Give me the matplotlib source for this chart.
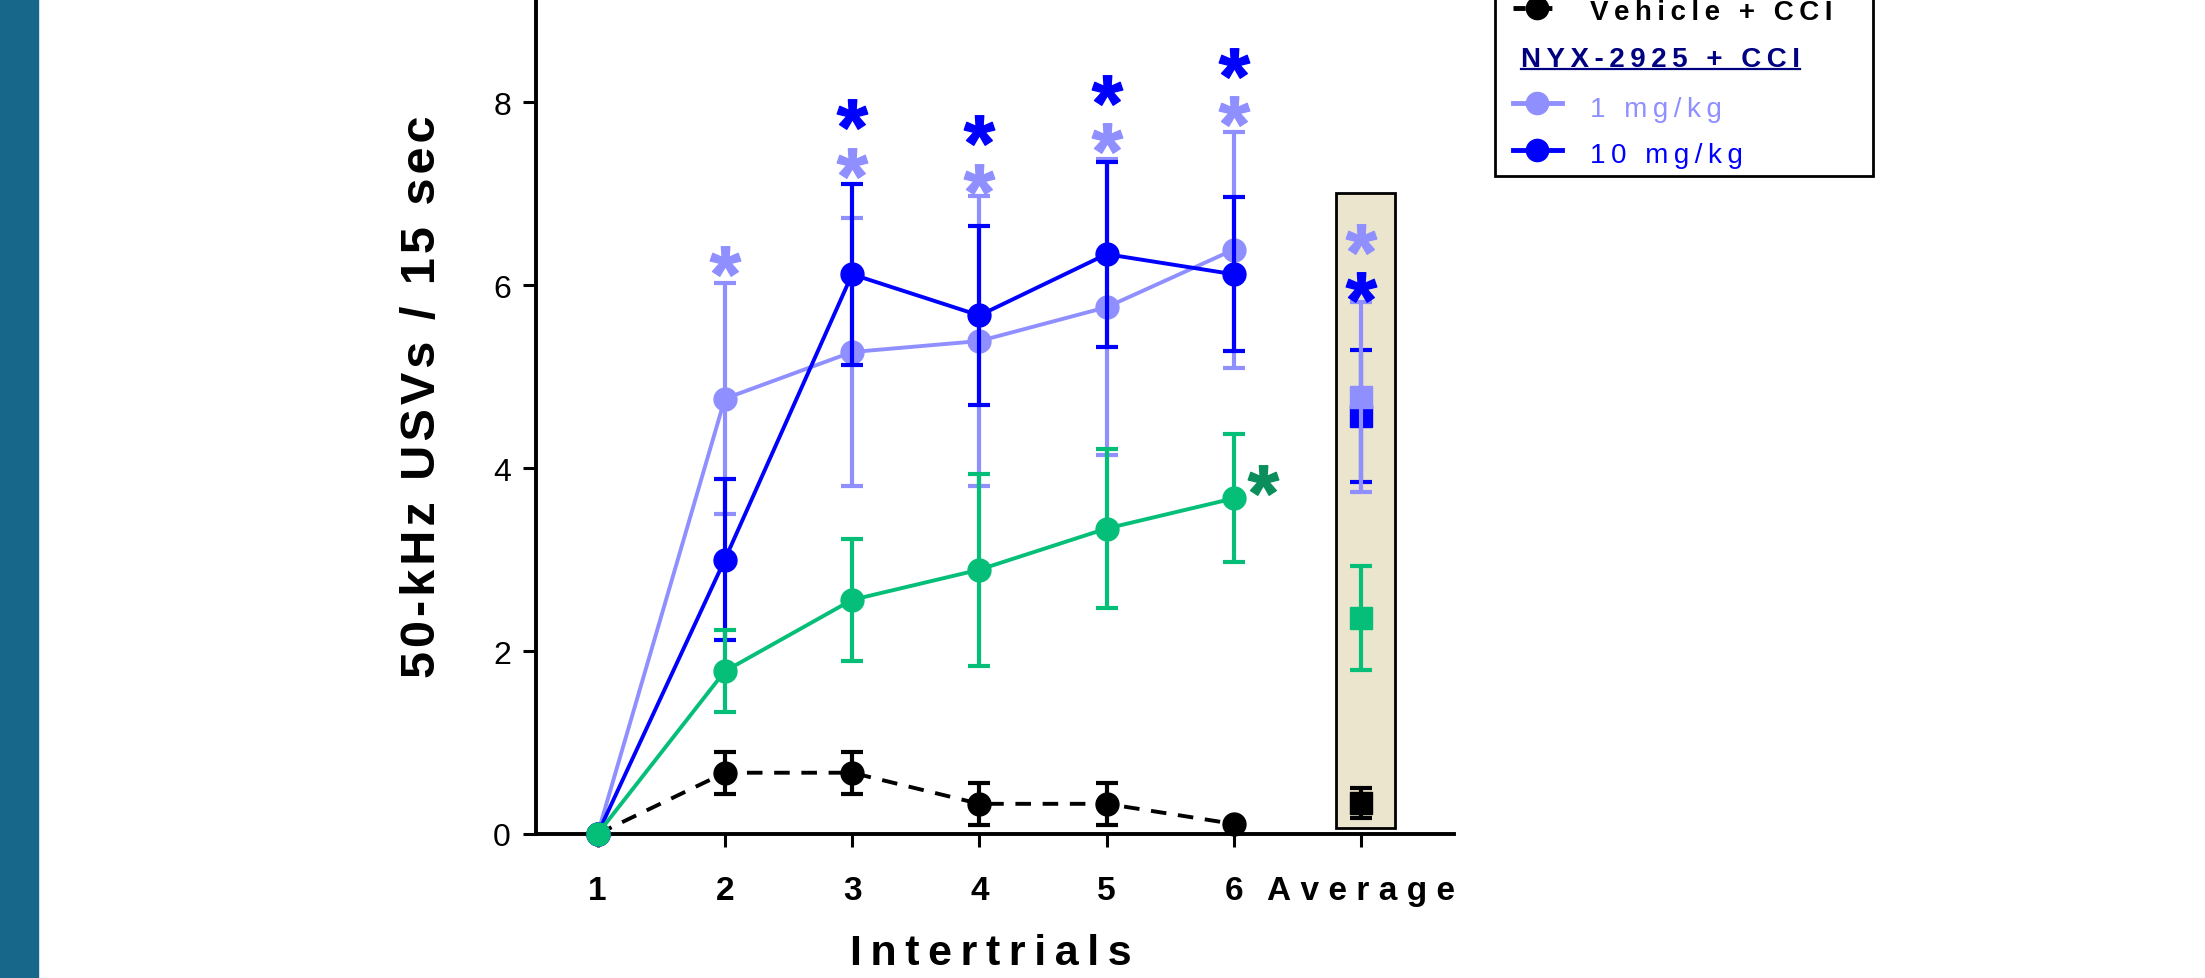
import matplotlib
matplotlib.use("Agg")
import matplotlib.pyplot as plt
import numpy as np
from matplotlib.patches import Rectangle
from matplotlib.lines import Line2D
from matplotlib.textpath import TextPath
from matplotlib.font_manager import FontProperties
from matplotlib.path import Path

plt.rcParams['font.family'] = ['Liberation Sans', 'DejaVu Sans']

# ---- data ----
trials = [1, 2, 3, 4, 5, 6]
xtick_labels = ['1', '2', '3', '4', '5', '6', 'Average']
yticks = [0, 2, 4, 6, 8]

vehicle = [0, 0.67, 0.67, 0.33, 0.33, 0.11]
vehicle_err = [0, 0.23, 0.23, 0.23, 0.23, 0]
green = [0, 1.78, 2.56, 2.89, 3.34, 3.67]
green_err = [0, 0.45, 0.67, 1.05, 0.87, 0.70]
low = [0, 4.76, 5.27, 5.39, 5.76, 6.39]
low_err = [0, 1.26, 1.46, 1.59, 1.62, 1.29]
high = [0, 3.0, 6.12, 5.67, 6.34, 6.12]
high_err = [0, 0.88, 0.99, 0.98, 1.01, 0.84]

avg_x = 7
vehicle_avg, vehicle_avg_err = 0.34, 0.16
green_avg, green_avg_err = 2.36, 0.57
low_avg, low_avg_err = 4.78, 1.04
high_avg, high_avg_err = 4.57, 0.72

# significance stars
low_star_x = [2, 3, 4, 5, 6, 7]
low_star_y = [6.27, 7.34, 7.16, 7.61, 7.90, 6.51]
high_star_x = [3, 4, 5, 6, 7]
high_star_y = [7.87, 7.70, 8.14, 8.43, 5.98]
green_star_x = [6.23]
green_star_y = [3.87]

LIGHT = '#8F8FFF'
BLUE = '#0000FF'
GREEN = '#05BF78'
DKGREEN = '#0A8F5C'
NAVY = '#000080'

W, H = 2205, 979
THIN = '\u2009'
HAIR = '\u200a'


def sp(s, gap=THIN):
    return gap.join(list(s))


def fx(px):
    return px / W


def fy(py):
    return 1 - py / H


# asterisk marker centred on its ink
fp = FontProperties(family='Liberation Sans', weight='bold')
tp = TextPath((0, 0), '*', prop=fp, size=10)
ext = tp.get_extents()
verts = tp.vertices - [(ext.x0 + ext.x1) / 2, (ext.y0 + ext.y1) / 2]
verts[tp.codes == Path.CLOSEPOLY] = 0
star = Path(verts, tp.codes)

fig = plt.figure(figsize=(W / 100, H / 100), dpi=100)
fig.patches.append(Rectangle((0, 0), fx(38), 1, transform=fig.transFigure,
                             color='#17678A', zorder=0))

ax = fig.add_axes([fx(536), fy(835), fx(1454 - 536), 835 / H])
ax.set_xlim(0.516, 7.73)
ax.set_ylim(0, 9.13)

# shaded box round the averages
ax.add_patch(Rectangle((6.80, 0.07), 0.47, 6.94, facecolor='#EAE5CC',
                       edgecolor='black', lw=2, zorder=1))

def series(x, y, err, color, ls='-', z=3, marker='o'):
    c = ax.errorbar(x, y, yerr=err, color=color, lw=2.8, ls=ls, marker=marker,
                    ms=16.5, elinewidth=3, capsize=8, capthick=3, zorder=z)
    for a in c.get_children():
        a.set_clip_on(False)
    return c

series(trials, vehicle, vehicle_err, 'black', ls=(0, (4, 3)), z=3)
series(trials, low, low_err, LIGHT, z=4)
series(trials, high, high_err, BLUE, z=5)
series(trials, green, green_err, GREEN, z=6)

series([avg_x], [vehicle_avg], [vehicle_avg_err], 'black', marker='s', z=3)
series([avg_x], [green_avg], [green_avg_err], GREEN, marker='s', z=3)
series([avg_x], [high_avg], [high_avg_err], BLUE, marker='s', z=4)
series([avg_x], [low_avg], [low_avg_err], LIGHT, marker='s', z=5)

ax.plot(low_star_x, low_star_y, ls='none', marker=star, ms=22, color=LIGHT, zorder=7)
ax.plot(high_star_x, high_star_y, ls='none', marker=star, ms=22, color=BLUE, zorder=7)
ax.plot(green_star_x, green_star_y, ls='none', marker=star, ms=22, color=DKGREEN, zorder=7)

for s in ['top', 'right']:
    ax.spines[s].set_visible(False)
for s in ['left', 'bottom']:
    ax.spines[s].set_linewidth(2.8)

ax.set_xticks(range(1, 8))
ax.set_xticklabels([sp(t, THIN + HAIR) if len(t) > 1 else t for t in xtick_labels],
                   fontsize=24, fontweight='bold')
ax.set_yticks(yticks)
ax.set_yticklabels([str(t) for t in yticks], fontsize=23)
ax.tick_params(axis='x', length=9.4, width=2.2, pad=20)
ax.tick_params(axis='y', length=9.4, width=2.2, pad=8.6)

fig.text(fx(423), fy(397), sp('50-kHz USVs / 15 sec', HAIR), rotation=90,
         ha='center', va='center', fontsize=35, fontweight='bold')
fig.text(fx(991), fy(965), sp('Intertrials'), ha='center', va='baseline',
         fontsize=31, fontweight='bold')

# ---- legend (top cut off by the figure edge) ----
fig.patches.append(Rectangle((fx(1495), fy(177)), fx(1873 - 1495), 177 / H + 0.05,
                             transform=fig.transFigure, facecolor='white',
                             edgecolor='black', lw=2, zorder=5))

def sample(py, color, ls='-'):
    fig.add_artist(Line2D([fx(1513), fx(1537), fx(1562)], [fy(py)] * 3,
                          transform=fig.transFigure, color=color, lw=3.5, ls=ls,
                          marker='o', ms=16, markevery=[1], zorder=6))

sample(9, 'black', ls=(0, (2.5, 3)))
sample(104, LIGHT)
sample(151, BLUE)

fig.text(fx(1590), fy(20), sp('Vehicle + CCI'), fontsize=20, fontweight='bold',
         va='baseline', zorder=6)
hdr = fig.text(fx(1521), fy(67), sp('NYX-2925 + CCI'), fontsize=20,
               fontweight='bold', color=NAVY, va='baseline', zorder=6)
fig.text(fx(1590), fy(117), sp('1 mg/kg'), fontsize=20, color=LIGHT,
         va='baseline', zorder=6)
fig.text(fx(1590), fy(163), sp('10 mg/kg'), fontsize=20, color=BLUE,
         va='baseline', zorder=6)

fig.canvas.draw()
bb = hdr.get_window_extent()
fig.add_artist(Line2D([bb.x0 / W, bb.x1 / W], [fy(70)] * 2, transform=fig.transFigure,
                      color=NAVY, lw=1.6, zorder=6))

fig.savefig('out.png', dpi=100)
